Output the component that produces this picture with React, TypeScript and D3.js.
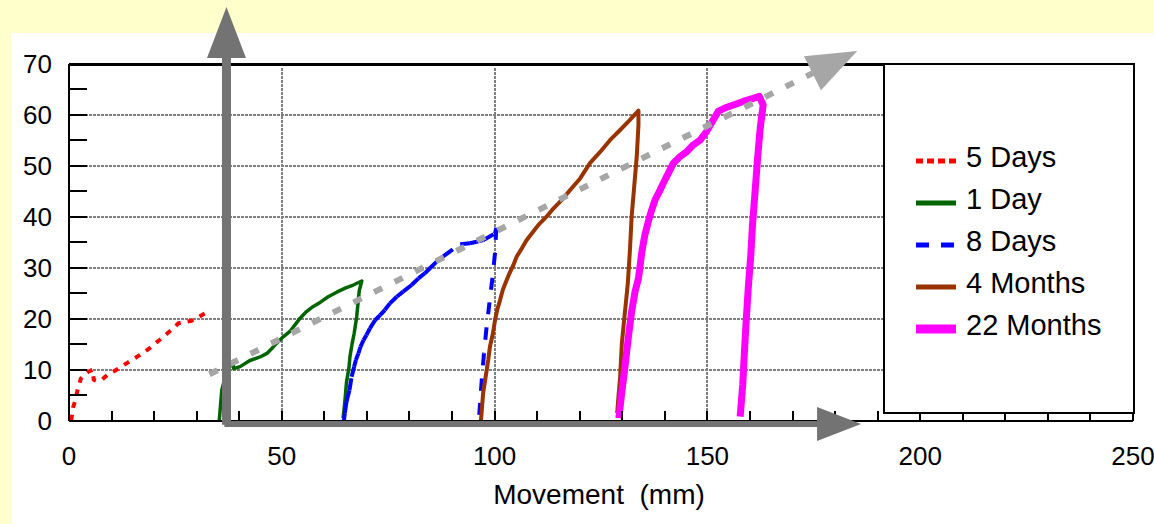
import React from 'react';
import * as d3 from 'd3';

const W = 1154;
const H = 524;

// ---------- data ----------
const X_TICKS = [0, 50, 100, 150, 200, 250];
const Y_TICKS = [0, 10, 20, 30, 40, 50, 60, 70];
const X_MINOR = d3.range(0, 251, 10);
const Y_MINOR = d3.range(0, 71, 5);
const X_GRID = [50, 100, 150, 200];
const Y_GRID = [10, 20, 30, 40, 50, 60];

const seriesNames = ['5 Days', '1 Day', '8 Days', '4 Months', '22 Months'];

const days5X = [0.5, 1.0, 1.5, 2.0, 2.8, 3.8, 4.5, 5.6, 5.8, 6.6, 7.7, 8.5, 9.6, 10.8, 13.6, 16.7, 18.9, 21.8, 24.5, 25.7, 28.8, 30.4, 33.1];
const days5Y = [0, 2.7, 4.0, 6.0, 8.3, 9.1, 9.6, 10.0, 8.0, 7.8, 8.0, 8.6, 9.3, 9.8, 11.3, 12.9, 14.2, 16.2, 18.1, 19.1, 19.6, 20.3, 21.6];

const day1X = [35.3, 35.5, 35.9, 37.0, 38.5, 38.7, 40.2, 42.5, 44.9, 46.5, 47.6, 48.8, 50.4, 51.9, 53.1, 54.3, 55.8, 57.4, 59.0, 60.9, 62.9, 64.9, 66.8, 68.8, 68.2, 67.6, 67.0, 66.5, 66.0, 65.8, 65.2, 64.9, 64.6, 64.4];
const day1Y = [0, 2.0, 6.0, 9.5, 11.6, 10.2, 10.6, 11.8, 12.5, 13.2, 14.1, 15.2, 16.5, 17.5, 18.8, 20.1, 21.4, 22.4, 23.2, 24.3, 25.2, 26.0, 26.6, 27.4, 25.5, 20.4, 17.1, 15.0, 12.5, 10.5, 7.5, 4.5, 2.0, 0.5];

const days8X = [64.6, 64.8, 65.2, 65.9, 66.4, 67.0, 67.4, 68.0, 68.5, 69.2, 69.9, 70.7, 71.9, 73.1, 74.2, 75.4, 77.0, 78.5, 80.5, 82.1, 83.6, 84.8, 86.4, 87.9, 91.9, 94.2, 95.8, 97.3, 100.1, 100.4, 100.1, 99.5, 98.8, 98.1, 97.5, 97.0, 96.6, 96.3];
const days8Y = [0, 1.4, 3.7, 6.0, 8.6, 10.6, 11.9, 13.2, 14.5, 15.8, 16.8, 18.1, 19.7, 20.7, 21.7, 23.0, 24.3, 25.3, 26.6, 27.9, 28.9, 29.9, 31.2, 32.2, 34.6, 34.8, 35.1, 35.4, 36.7, 37.8, 32.9, 28.0, 23.2, 18.2, 13.2, 8.2, 3.5, 0];

const months4X = [96.8, 97.3, 97.9, 98.5, 98.9, 99.6, 100.1, 100.6, 101.3, 101.9, 102.7, 103.5, 104.4, 105.2, 106.4, 107.5, 109.1, 110.3, 112.2, 113.8, 115.8, 117.7, 120.1, 122.4, 124.8, 127.1, 129.5, 131.8, 133.8, 133.8, 133.4, 132.8, 132.2, 131.8, 131.3, 130.6, 129.9, 129.5, 129.1, 128.8];
const months4Y = [0, 5.4, 8.6, 11.9, 14.5, 17.1, 19.7, 21.7, 23.7, 25.6, 27.3, 28.9, 30.5, 32.2, 33.8, 35.4, 37.1, 38.4, 40.0, 41.6, 43.3, 45.2, 47.5, 50.5, 52.7, 55.0, 57.0, 59.0, 60.8, 58.0, 51.8, 45.9, 40.0, 33.5, 26.9, 21.1, 15.2, 8.6, 4.7, 1.5];

const months22X = [129.2, 129.9, 130.6, 131.4, 132.2, 133.0, 133.8, 134.6, 135.3, 136.1, 136.9, 137.7, 138.7, 139.6, 140.8, 142.0, 143.6, 145.1, 146.7, 148.3, 149.8, 151.4, 152.6, 154.1, 156.1, 158.4, 160.8, 162.2, 163.1, 162.4, 161.8, 161.2, 160.6, 160.2, 159.6, 159.1, 158.7, 158.3, 157.7];
const months22Y = [0.5, 5.7, 10.3, 16.2, 21.4, 25.3, 27.9, 33.1, 36.4, 39.0, 41.3, 43.3, 44.9, 46.5, 48.5, 50.5, 51.8, 52.7, 54.1, 55.0, 56.7, 59.0, 60.7, 61.3, 61.9, 62.6, 63.2, 63.6, 61.9, 57.3, 51.5, 44.9, 38.4, 32.5, 26.0, 19.4, 13.5, 7.0, 0.8];

// annotation arrows (data units)
const trendX = [33, 185.2];
const trendY = [9.1, 72.5];
const vArrowX = [37.0, 37.0];
const vArrowY = [-0.8, 81.1];
const hArrowX = [36.5, 186.1];
const hArrowY = [-0.65, -0.65];

// ---------- styles ----------
const FONT = '"Liberation Sans", Arial, sans-serif';
const styles = [
  { color: '#FF0000', width: 4, dash: '6,7', perSeg: false, legW: 5, legDash: '7,4' },
  { color: '#006400', width: 3.5, dash: null, perSeg: false, legW: 5, legDash: null },
  { color: '#0000FF', width: 4, dash: '12,13', perSeg: true, legW: 5, legDash: '13,12' },
  { color: '#993300', width: 4, dash: null, perSeg: false, legW: 5, legDash: null },
  { color: '#FF00FF', width: 7, dash: null, perSeg: false, legW: 9, legDash: null },
];
const seriesData = [
  [days5X, days5Y],
  [day1X, day1Y],
  [days8X, days8Y],
  [months4X, months4Y],
  [months22X, months22Y],
];

export default function App() {
  const x = d3.scaleLinear().domain([0, 250]).range([69, 1133]);
  const y = d3.scaleLinear().domain([0, 70]).range([420.7, 63.7]);
  const line = d3.line<[number, number]>().x((d) => x(d[0])).y((d) => y(d[1]));

  const top = y(70);
  const bottom = y(0);
  const left = x(0);
  const right = x(250);
  const snap = (v: number) => Math.round(v);

  // legend layout
  const legX = 884;
  const legW = 250;
  const legTop = top;
  const legBottom = 413;
  const legRow0 = 167;
  const legStep = 42;

  // trend arrow geometry
  const p0: [number, number] = [x(trendX[0]), y(trendY[0])];
  const tip: [number, number] = [x(trendX[1]), y(trendY[1])];
  const dx = tip[0] - p0[0];
  const dy = tip[1] - p0[1];
  const len = Math.hypot(dx, dy);
  const ux = dx / len, uy = dy / len;
  const headLen = 50, headHalf = 19;
  const base: [number, number] = [tip[0] - ux * headLen, tip[1] - uy * headLen];
  const nx = -uy, ny = ux;

  // vertical arrow
  const vx = x(vArrowX[0]);
  const vBot = y(vArrowY[0]);
  const vTip = y(vArrowY[1]);
  const vHead = 51;
  // horizontal arrow
  const hy = y(hArrowY[0]);
  const hL = x(hArrowX[0]);
  const hTip = x(hArrowX[1]);
  const hHead = 44;

  return (
    <svg width={W} height={H} style={{ position: 'absolute', left: 0, top: 0 }} fontFamily={FONT}>
      <rect x={0} y={0} width={W} height={H} fill="#FFFFCC" />
      <rect x={11} y={33} width={W - 11} height={H - 33} fill="#FFFFFF" />

      {/* gridlines */}
      <g shapeRendering="crispEdges">
        {Y_GRID.map((v) => (
          <line key={'gy' + v} x1={left} x2={right} y1={snap(y(v))} y2={snap(y(v))} stroke="#808080" strokeWidth={2} strokeDasharray="3,1" />
        ))}
        {X_GRID.map((v) => (
          <line key={'gx' + v} x1={snap(x(v))} x2={snap(x(v))} y1={top + 4} y2={bottom} stroke="#808080" strokeWidth={2} strokeDasharray="3,1" />
        ))}
      </g>

      {/* series */}
      {seriesData.map(([xs, ys], i) => {
        const st = styles[i];
        const pts: [number, number][] = xs.map((v, k) => [v, ys[k]]);
        if (st.perSeg) {
          return (
            <g key={'s' + i}>
              {pts.slice(1).map((p, k) => (
                <path key={k} d={line([pts[k], p]) || ''} fill="none" stroke={st.color} strokeWidth={st.width} strokeDasharray={st.dash || undefined} />
              ))}
            </g>
          );
        }
        return (
          <path key={'s' + i} d={line(pts) || ''} fill="none" stroke={st.color} strokeWidth={st.width} strokeLinejoin="round" strokeDasharray={st.dash || undefined} />
        );
      })}

      {/* axes */}
      <g shapeRendering="crispEdges">
        <line x1={left} x2={right + 1} y1={snap(top)} y2={snap(top)} stroke="#000" strokeWidth={3} />
        <line x1={left} x2={left} y1={top} y2={bottom} stroke="#000" strokeWidth={2} />
        <line x1={left} x2={right} y1={snap(bottom)} y2={snap(bottom)} stroke="#000" strokeWidth={2} />
        {Y_MINOR.filter((v) => v > 0 && v < 70).map((v) => (
          <line key={'ty' + v} x1={left} x2={left + 18} y1={snap(y(v))} y2={snap(y(v))} stroke="#000" strokeWidth={2} />
        ))}
        {X_MINOR.filter((v) => v > 0).map((v) => (
          <line key={'tx' + v} x1={snap(x(v))} x2={snap(x(v))} y1={bottom} y2={bottom - 10} stroke="#000" strokeWidth={2} />
        ))}
      </g>

      {/* tick labels */}
      {Y_TICKS.map((v) => (
        <text key={'ly' + v} x={52} y={y(v) + 9} textAnchor="end" fontSize={26} fill="#000">{v}</text>
      ))}
      {X_TICKS.map((v) => (
        <text key={'lx' + v} x={x(v)} y={465} textAnchor="middle" fontSize={26} fill="#000">{v}</text>
      ))}
      <text x={599} y={504} textAnchor="middle" fontSize={28} fill="#000" style={{ whiteSpace: 'pre' }}>{'Movement  (mm)'}</text>

      {/* legend */}
      <rect x={legX} y={legTop} width={legW} height={legBottom - legTop} fill="#FFFFFF" stroke="#000" strokeWidth={2} shapeRendering="crispEdges" />
      {seriesNames.map((name, i) => {
        const st = styles[i];
        const by = legRow0 + i * legStep;
        return (
          <g key={'lg' + i}>
            <line x1={916} x2={956} y1={by - 6} y2={by - 6} stroke={st.color} strokeWidth={st.legW} strokeDasharray={st.legDash || undefined} />
            <text x={966} y={by} fontSize={29} fill="#000">{name}</text>
          </g>
        );
      })}

      {/* diagonal trend arrow */}
      <line x1={p0[0]} y1={p0[1]} x2={base[0] + ux * 2} y2={base[1] + uy * 2} stroke="#A6A6A6" strokeWidth={6} strokeDasharray="9,14" />
      <polygon
        points={`${tip[0]},${tip[1]} ${base[0] + nx * headHalf},${base[1] + ny * headHalf} ${base[0] - nx * headHalf},${base[1] - ny * headHalf}`}
        fill="#A6A6A6"
      />

      {/* vertical arrow */}
      <rect x={vx - 4.5} y={vTip + vHead - 1} width={9} height={vBot - (vTip + vHead - 1)} fill="#737373" />
      <polygon points={`${vx},${vTip} ${vx - 19.5},${vTip + vHead} ${vx + 19.5},${vTip + vHead}`} fill="#737373" />

      {/* horizontal arrow */}
      <rect x={hL} y={hy - 3} width={hTip - hHead - hL + 1} height={6} fill="#737373" />
      <polygon points={`${hTip},${hy} ${hTip - hHead},${hy - 17} ${hTip - hHead},${hy + 17}`} fill="#737373" />
    </svg>
  );
}
